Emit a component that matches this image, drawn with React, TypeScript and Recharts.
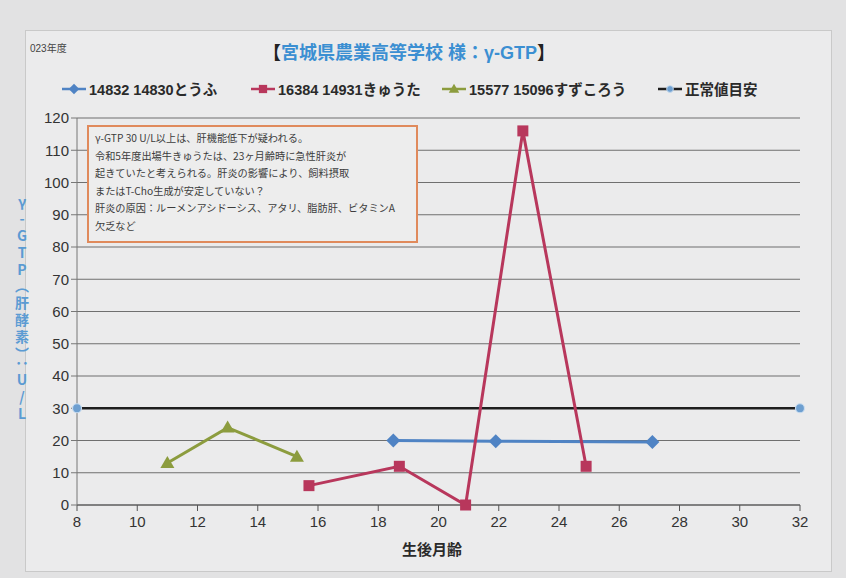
import React from "react";
import { CartesianGrid, Line, LineChart, XAxis, YAxis } from "recharts";

// 生後月齢 (x) と γ-GTP (y)
const tofuAge = [18.5, 21.9, 27.1];
const tofuGtp = [20, 19.8, 19.5];

const kyutaAge = [15.7, 18.7, 20.9, 22.8, 24.9];
const kyutaGtp = [6, 12, 0, 116, 12];

const sugorouAge = [11.0, 13.0, 15.3];
const sugorouGtp = [13, 24, 15];

const normalAge = [8, 32];
const normalGtp = [30, 30];

const xTicks = [8, 10, 12, 14, 16, 18, 20, 22, 24, 26, 28, 30, 32];
const yTicks = [0, 10, 20, 30, 40, 50, 60, 70, 80, 90, 100, 110, 120];

const legendNames = ["14832 14830とうふ", "16384 14931きゅうた", "15577 15096すずころう", "正常値目安"];

const noteLines = [
  "γ-GTP 30 U/L以上は、肝機能低下が疑われる。",
  "令和5年度出場牛きゅうたは、23ヶ月齢時に急性肝炎が",
  "起きていたと考えられる。肝炎の影響により、飼料摂取",
  "またはT-Cho生成が安定していない？",
  "肝炎の原因：ルーメンアシドーシス、アタリ、脂肪肝、ビタミンA",
  "欠乏など",
];

const pair = (xs: number[], ys: number[]) => xs.map((x, i) => ({ x, y: ys[i] }));

const tofu = pair(tofuAge, tofuGtp);
const kyuta = pair(kyutaAge, kyutaGtp);
const sugorou = pair(sugorouAge, sugorouGtp);
const normal = pair(normalAge, normalGtp);

const BLUE = "#4f83c4";
const RED = "#b8375c";
const GREEN = "#8c9c3e";
const DARK = "#1e1e1e";
const FONT = '"Liberation Sans", "Noto Sans CJK JP", sans-serif';

type Shape = "diamond" | "square" | "triangle" | "circle";

function Marker({ shape, cx, cy, color }: { shape: Shape; cx: number; cy: number; color: string }) {
  if (shape === "diamond") {
    const s = 7;
    return <polygon points={`${cx},${cy - s} ${cx + s},${cy} ${cx},${cy + s} ${cx - s},${cy}`} fill={color} />;
  }
  if (shape === "square") {
    return <rect x={cx - 5.5} y={cy - 5.5} width={11} height={11} fill={color} />;
  }
  if (shape === "triangle") {
    return <polygon points={`${cx},${cy - 7} ${cx + 7},${cy + 5} ${cx - 7},${cy + 5}`} fill={color} />;
  }
  return <circle cx={cx} cy={cy} r={4.5} fill="#6e9fd0" stroke="#c8dcf0" strokeWidth={1.2} />;
}

const dotOf = (shape: Shape, color: string) => (props: any) => (
  <Marker key={`${shape}-${props.index}`} shape={shape} cx={props.cx} cy={props.cy} color={color} />
);

function LegendIcon({ shape, color, line }: { shape: Shape; color: string; line: string }) {
  return (
    <svg width={24} height={14} style={{ marginRight: 3 }}>
      <line x1={0} y1={7} x2={24} y2={7} stroke={line} strokeWidth={2.5} />
      <g transform="translate(12,7) scale(0.75) translate(-12,-7)">
        <Marker shape={shape} cx={12} cy={7} color={color} />
      </g>
    </svg>
  );
}

export default function App() {
  const legendItems: { shape: Shape; color: string; line: string; left: number }[] = [
    { shape: "diamond", color: BLUE, line: BLUE, left: 62 },
    { shape: "square", color: RED, line: RED, left: 251 },
    { shape: "triangle", color: GREEN, line: GREEN, left: 442 },
    { shape: "circle", color: BLUE, line: DARK, left: 658 },
  ];

  return (
    <div style={{ position: "fixed", left: 0, top: 0, width: 846, height: 578, background: "#e2e2e3", fontFamily: FONT, overflow: "hidden" }}>
      <div style={{ position: "absolute", left: 25, top: 30, width: 805, height: 540, background: "#ebebec", border: "1px solid #c9c9c9" }} />

      <div style={{ position: "absolute", left: 30, top: 40, fontSize: 10, color: "#444" }}>023年度</div>

      <div style={{ position: "absolute", left: 0, width: 818, top: 38, textAlign: "center", fontSize: 18, fontWeight: "bold", color: "#3b8fd2" }}>
        <span style={{ color: "#222" }}>【</span>宮城県農業高等学校 様：γ-GTP<span style={{ color: "#222" }}>】</span>
      </div>

      {legendItems.map((it, i) => (
        <div key={legendNames[i]} style={{ position: "absolute", left: it.left, top: 78, display: "flex", alignItems: "center", fontSize: 14.5, fontWeight: "bold", color: "#2a2a2a" }}>
          <LegendIcon shape={it.shape} color={it.color} line={it.line} />
          {legendNames[i]}
        </div>
      ))}

      <div style={{ position: "absolute", left: 0, top: 0 }}>
        <LineChart width={846} height={578} margin={{ top: 118, right: 46, bottom: 43, left: 0 }}>
          <CartesianGrid vertical={false} stroke="#6f6f6f" strokeWidth={1.2} />
          <XAxis
            type="number"
            dataKey="x"
            domain={[8, 32]}
            ticks={xTicks}
            allowDuplicatedCategory={false}
            height={30}
            stroke="#555"
            tick={{ fill: "#333", fontSize: 15, fontFamily: FONT, dy: 3 }}
            tickSize={6}
          />
          <YAxis
            type="number"
            dataKey="y"
            domain={[0, 120]}
            ticks={yTicks}
            width={77}
            stroke="#777"
            tick={{ fill: "#333", fontSize: 15, fontFamily: FONT }}
            tickSize={6}
          />
          <Line data={normal} dataKey="y" stroke={DARK} strokeWidth={2.5} dot={dotOf("circle", BLUE)} isAnimationActive={false} />
          <Line data={tofu} dataKey="y" stroke={BLUE} strokeWidth={3} dot={dotOf("diamond", BLUE)} isAnimationActive={false} />
          <Line data={kyuta} dataKey="y" stroke={RED} strokeWidth={3} dot={dotOf("square", RED)} isAnimationActive={false} />
          <Line data={sugorou} dataKey="y" stroke={GREEN} strokeWidth={3} dot={dotOf("triangle", GREEN)} isAnimationActive={false} />
        </LineChart>
      </div>

      <div
        style={{
          position: "absolute",
          left: 87,
          top: 125,
          width: 331,
          height: 118,
          border: "2px solid #e08a5c",
          background: "#ededed",
          padding: "2px 6px",
          boxSizing: "border-box",
          fontSize: 10.2,
          lineHeight: "17.6px",
          color: "#3c3c3c",
          fontFamily: '"Noto Sans CJK JP", sans-serif',
          whiteSpace: "nowrap",
        }}
      >
        {noteLines.map((t) => (
          <div key={t}>{t}</div>
        ))}
      </div>

      <div
        style={{
          position: "absolute",
          left: 12,
          top: 195,
          writingMode: "vertical-rl",
          textOrientation: "upright",
          fontSize: 14,
          letterSpacing: 2.8,
          fontWeight: "bold",
          color: "#5b9bd3",
          fontFamily: '"Noto Sans CJK JP", sans-serif',
        }}
      >
        γ-GTP（肝酵素）：U/L
      </div>

      <div style={{ position: "absolute", left: 0, width: 864, top: 538, textAlign: "center", fontSize: 15, fontWeight: "bold", color: "#2a2a2a", fontFamily: '"Noto Sans CJK JP", sans-serif' }}>
        生後月齢
      </div>
    </div>
  );
}
